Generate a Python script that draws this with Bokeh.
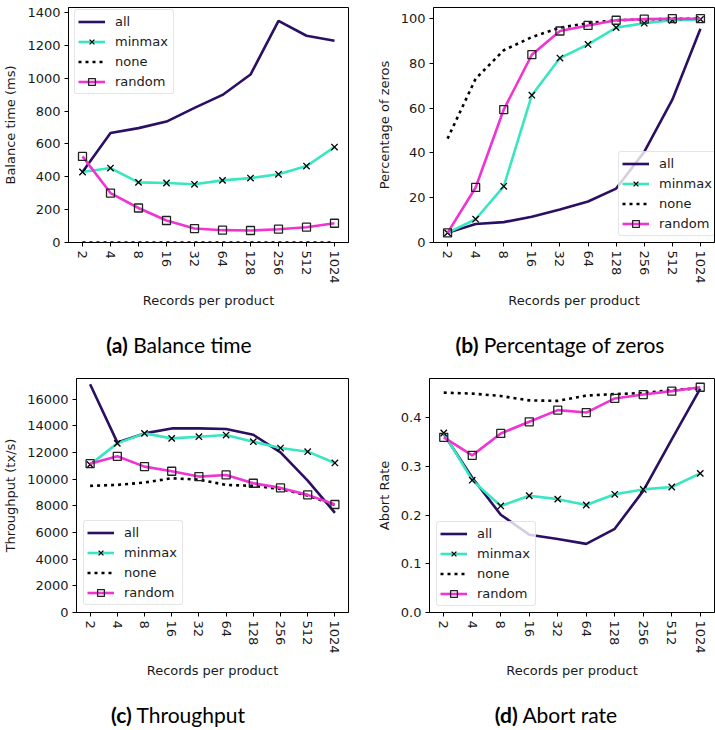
from bokeh.plotting import figure
from bokeh.models import (FactorRange, Range1d, FixedTicker, Legend, LegendItem,
                          PrintfTickFormatter, Div)
from bokeh.layouts import column, row
from bokeh.embed import file_html
from bokeh.resources import INLINE

# ---------------- data ----------------
records = ["2", "4", "8", "16", "32", "64", "128", "256", "512", "1024"]
series_names = ["all", "minmax", "none", "random"]

balance_all = [429, 666, 696, 736, 819, 898, 1022, 1349, 1258, 1228]
balance_minmax = [429, 453, 366, 362, 354, 378, 392, 415, 465, 581]
balance_none = [0, 0, 0, 0, 0, 0, 0, 0, 0, 0]
balance_random = [524, 301, 210, 134, 85, 75, 73, 81, 93, 117]

zeros_all = [4.3, 8.3, 9.1, 11.5, 14.7, 18.3, 24.1, 40.5, 63.8, 95.5]
zeros_minmax = [4.3, 10.4, 25.1, 65.8, 82.4, 88.5, 96.0, 98.0, 99.3, 99.7]
zeros_none = [46.4, 73.2, 85.9, 91.8, 96.0, 98.0, 99.3, 99.7, 99.9, 100.0]
zeros_random = [4.3, 24.6, 59.4, 83.9, 94.5, 97.0, 99.3, 99.8, 100.0, 100.0]

thr_all = [17121, 12760, 13433, 13807, 13807, 13757, 13333, 12012, 9894, 7477]
thr_minmax = [11090, 12685, 13433, 13059, 13184, 13308, 12810, 12336, 12062, 11215]
thr_none = [9495, 9570, 9745, 10069, 9969, 9570, 9495, 9271, 8773, 8075]
thr_random = [11165, 11713, 10941, 10592, 10193, 10318, 9695, 9346, 8822, 8100]

abort_all = [0.367, 0.277, 0.201, 0.160, 0.151, 0.141, 0.172, 0.250, 0.356, 0.460]
abort_minmax = [0.369, 0.272, 0.219, 0.240, 0.233, 0.221, 0.243, 0.253, 0.258, 0.286]
abort_none = [0.452, 0.450, 0.445, 0.436, 0.435, 0.446, 0.449, 0.451, 0.457, 0.461]
abort_random = [0.360, 0.323, 0.368, 0.392, 0.416, 0.411, 0.440, 0.448, 0.455, 0.463]

balance_ticks = [0, 200, 400, 600, 800, 1000, 1200, 1400]
zeros_ticks = [0, 20, 40, 60, 80, 100]
thr_ticks = [0, 2000, 4000, 6000, 8000, 10000, 12000, 14000, 16000]
abort_ticks = [0.0, 0.1, 0.2, 0.3, 0.4]

captions = [("(a)", "Balance time"), ("(b)", "Percentage of zeros"),
            ("(c)", "Throughput"), ("(d)", "Abort rate")]

# ---------------- styles ----------------
C_ALL = "#2b0f63"
C_MIN = "#38e6c2"
C_RND = "#f233d3"
LW = 2.6
FONT = "DejaVu Sans"
FS = "13px"
CAP_FONT = "Lato"
CAP_FS = "21px"


def make_panel(width, height, b_left, b_right, b_top, b_bottom, y_end, yticks,
               ylabel, vals, legend_xy, fmt=None):
    p = figure(width=width, height=height, x_range=FactorRange(factors=records),
               y_range=Range1d(0, y_end), output_backend="svg",
               toolbar_location=None, min_border_left=b_left,
               min_border_right=b_right, min_border_top=b_top,
               min_border_bottom=b_bottom)
    p.xgrid.visible = False
    p.ygrid.visible = False
    p.outline_line_color = "black"
    p.outline_line_width = 1
    p.background_fill_color = "white"
    p.border_fill_color = "white"

    p.yaxis.ticker = FixedTicker(ticks=yticks)
    if fmt is not None:
        p.yaxis.formatter = PrintfTickFormatter(format=fmt)
    p.xaxis.major_label_orientation = "vertical"
    for ax in (p.xaxis[0], p.yaxis[0]):
        ax.major_tick_out = 4
        ax.major_tick_in = 0
        ax.minor_tick_out = 0
        ax.minor_tick_in = 0
        ax.axis_line_color = "black"
        ax.major_tick_line_color = "black"
        ax.major_label_text_font = FONT
        ax.major_label_text_font_size = FS
        ax.major_label_text_color = "#1a1a1a"
        ax.major_label_standoff = 4
        ax.axis_label_text_font = FONT
        ax.axis_label_text_font_size = FS
        ax.axis_label_text_font_style = "normal"
        ax.axis_label_text_color = "#1a1a1a"
        ax.axis_label_standoff = 6
    p.xaxis.axis_label = "Records per product"
    p.yaxis.axis_label = ylabel

    v_all, v_min, v_none, v_rnd = vals
    r_all = p.line(records, v_all, line_color=C_ALL, line_width=LW)
    r_min = p.line(records, v_min, line_color=C_MIN, line_width=LW)
    s_min = p.scatter(records, v_min, marker="x", size=9, line_color="black",
                      line_width=1.3)
    r_none = p.line(records, v_none, line_color="black", line_width=LW,
                    line_dash="3 4")
    r_rnd = p.line(records, v_rnd, line_color=C_RND, line_width=LW)
    s_rnd = p.scatter(records, v_rnd, marker="square", size=8,
                      line_color="#222222", line_width=1.3, fill_alpha=0)

    items = [
        LegendItem(label=series_names[0], renderers=[r_all]),
        LegendItem(label=series_names[1], renderers=[r_min, s_min]),
        LegendItem(label=series_names[2], renderers=[r_none]),
        LegendItem(label=series_names[3], renderers=[r_rnd, s_rnd]),
    ]
    legend = Legend(items=items, location=legend_xy, padding=3, spacing=3,
                    label_height=16, glyph_height=17, glyph_width=27,
                    label_standoff=10, label_width=55, margin=0,
                    label_text_font=FONT, label_text_font_size=FS,
                    label_text_color="#1a1a1a",
                    border_line_color="#cccccc", border_line_width=1,
                    background_fill_color="white", background_fill_alpha=0.8)
    try:
        legend.border_radius = 3
    except Exception:
        pass
    p.add_layout(legend)
    return p


def caption(width, height, cx, cy, tag, text):
    html = (
        f'<div style="position:relative;width:{width}px;height:{height}px;">'
        f'<span style="position:absolute;left:{cx}px;top:{cy}px;'
        f'transform:translate(-50%,-50%);white-space:nowrap;'
        f'font-family:{CAP_FONT};font-size:{CAP_FS};color:black;">'
        f'<b>{tag}</b> {text}</span></div>'
    )
    return Div(text=html, width=width, height=height, margin=0)


pa = make_panel(360, 320, 67, 12, 7, 78, 1430, balance_ticks,
                "Balance time (ms)",
                (balance_all, balance_minmax, balance_none, balance_random),
                (6, 148))
pb = make_panel(355, 320, 73, 1, 7, 78, 105, zeros_ticks,
                "Percentage of zeros",
                (zeros_all, zeros_minmax, zeros_none, zeros_random),
                (185, 6))
pc = make_panel(360, 320, 74, 12, 13, 73, 17550, thr_ticks,
                "Throughput (tx/s)",
                (thr_all, thr_minmax, thr_none, thr_random),
                (7, 7))
pd = make_panel(355, 320, 69, 1, 12, 73, 0.481, abort_ticks,
                "Abort Rate",
                (abort_all, abort_minmax, abort_none, abort_random),
                (7, 6), fmt="%.1f")

ca = caption(360, 45, 179, 25, *captions[0])
cb = caption(355, 45, 200, 25, *captions[1])
cc = caption(360, 45, 178, 30, *captions[2])
cd = caption(355, 45, 196, 30, *captions[3])

layout = column(row(pa, pb), row(ca, cb), row(pc, pd), row(cc, cd))

open("out.html", "w").write(file_html(layout, INLINE))
